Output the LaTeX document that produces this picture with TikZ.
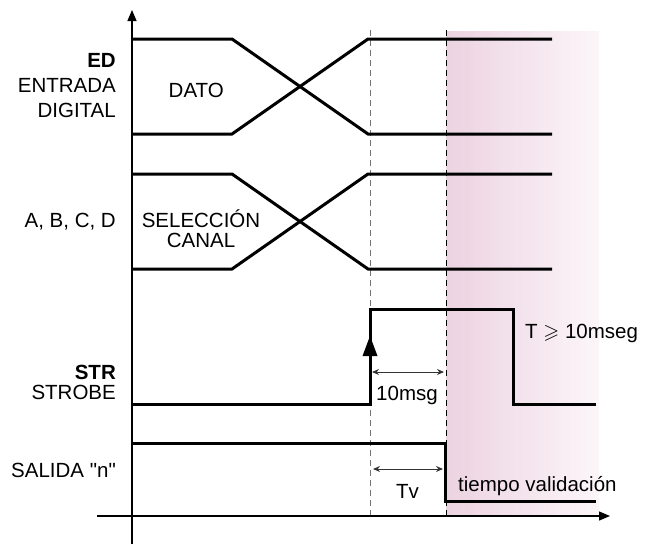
\documentclass[tikz,border=0pt]{standalone}
\usepackage{amssymb}
\usepackage{fontspec}
\setmainfont{Liberation Sans}
\usetikzlibrary{arrows.meta}
\definecolor{pinkL}{RGB}{236,211,225}
\definecolor{pinkR}{RGB}{251,245,248}
\begin{document}
\begin{tikzpicture}[x=1pt,y=-1pt,
  sig/.style={line width=3pt, line join=miter},
  axisline/.style={line width=1.3pt, -{Triangle[length=11pt,width=9pt]}},
  lbl/.style={inner sep=0pt, font=\fontsize{20.5}{25}\selectfont},
  dimarrow/.style={line width=0.9pt, draw=black!80, {Stealth[length=7pt,width=6pt]}-{Stealth[length=7pt,width=6pt]}},
  guide/.style={line width=0.9pt, dash pattern=on 6pt off 4pt},
  ]
\useasboundingbox (0,0) rectangle (653,544);
% shaded validation region (stepped gradient)
\foreach \i in {0,...,37} {
  \pgfmathsetmacro{\xa}{446+4*\i}
  \pgfmathsetmacro{\xb}{\xa+4.6}
  \pgfmathsetmacro{\pc}{100-100*\i/37}
  \fill[pinkL!\pc!pinkR] (\xa,31) rectangle (\xb,516);
}
% guide lines
\coordinate (g1t) at (370,30); \coordinate (g1b) at (370,516);
\coordinate (g2t) at (446,30); \coordinate (g2b) at (446,516);
\draw[guide, draw=black!55] (g1t) -- (g1b);
\draw[guide, draw=black] (g2t) -- (g2b);
% axes
\coordinate (yb) at (132,544); \coordinate (yt) at (132,10);
\coordinate (xl) at (97,516); \coordinate (xr) at (610,516);
\draw[axisline] (yb) -- (yt);
\draw[axisline] (xl) -- (xr);
% ED bus
\draw[sig] (132,39) -- (232,39) -- (368,134) -- (552,134);
\draw[sig] (132,134) -- (232,134) -- (368,39) -- (552,39);
% A,B,C,D bus
\draw[sig] (132,174) -- (232,174) -- (368,269) -- (552,269);
\draw[sig] (132,269) -- (232,269) -- (368,174) -- (552,174);
% STROBE
\draw[sig] (132,404) -- (370,404) -- (370,309) -- (513,309) -- (513,404) -- (596,404);
\fill (370,336) -- (362.5,356) -- (377.5,356) -- cycle;
% SALIDA
\draw[sig] (132,443) -- (445,443) -- (445,501) -- (596,501);
% dimension arrows
\coordinate (d1a) at (372,372); \coordinate (d1b) at (444,372);
\coordinate (d2a) at (373,469); \coordinate (d2b) at (443,469);
\draw[dimarrow] (d1a) -- (d1b);
\draw[dimarrow] (d2a) -- (d2b);
% labels
\node[lbl, anchor=base east] (ed) at (116,67) {\textbf{ED}};
\node[lbl, anchor=base east] (entrada) at (116,92) {ENTRADA};
\node[lbl, anchor=base east] (digital) at (116,117) {DIGITAL};
\node[lbl, anchor=base west] (dato) at (168.5,97) {DATO};
\node[lbl, anchor=base east] (abcd) at (116,227) {A, B, C, D};
\node[lbl, anchor=base] (sel) at (201,227) {SELECCIÓN};
\node[lbl, anchor=base] (canal) at (201,247) {CANAL};
\node[lbl, anchor=base east] (str) at (116,379) {\textbf{STR}};
\node[lbl, anchor=base east] (strobe) at (116,399) {STROBE};
\node[lbl, anchor=base east] (salida) at (116,477) {SALIDA \textquotedbl n\textquotedbl};
\node[lbl, anchor=base] (tenms) at (407,400) {10msg};
\node[lbl, anchor=base west] (tv) at (396,498) {Tv};
\node[lbl, anchor=base west] (tval) at (458,491) {tiempo validación};
\node[lbl, anchor=base west] (tmin) at (525,338) {T $\geqslant$ 10mseg};
\end{tikzpicture}
\end{document}
